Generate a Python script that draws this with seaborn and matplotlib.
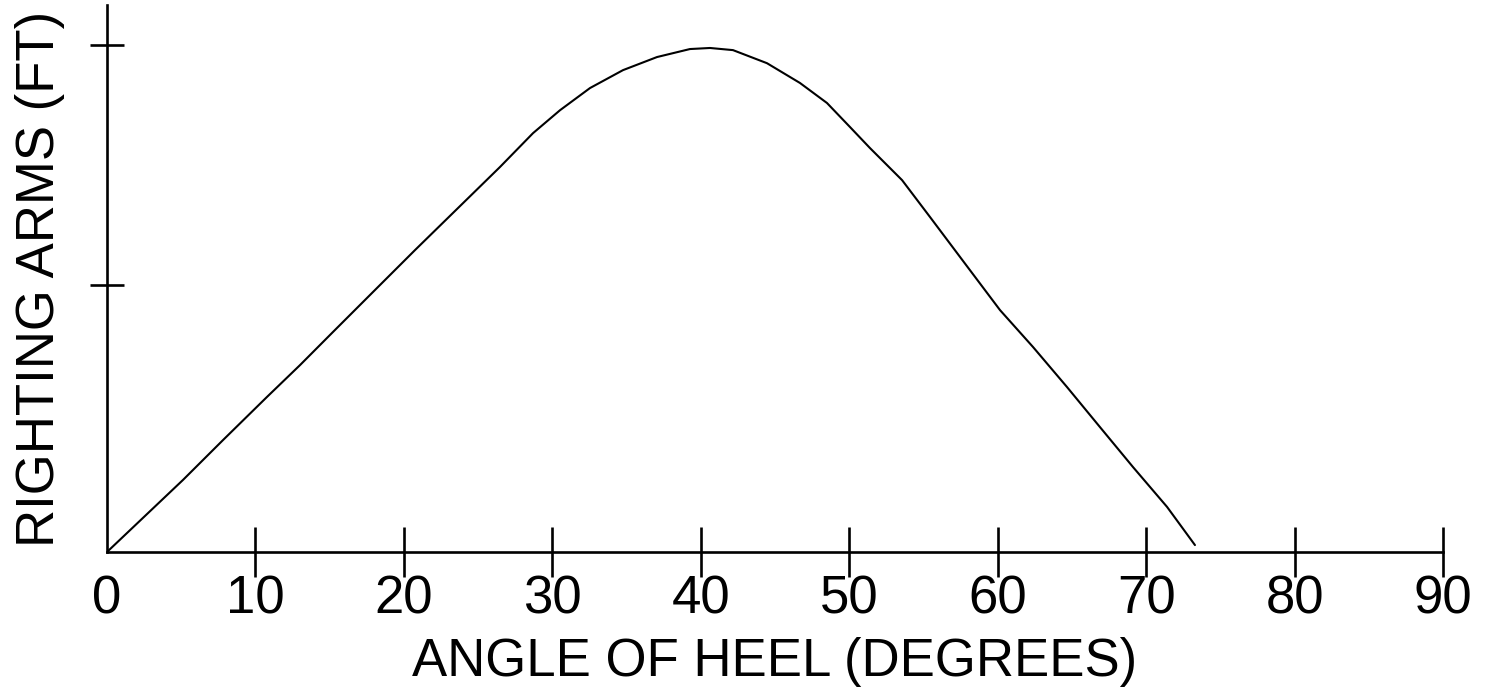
import numpy as np
import pandas as pd
import matplotlib
matplotlib.use("Agg")
import matplotlib.pyplot as plt
import seaborn as sns

# Righting arm curve (degrees, arbitrary ft scale)
heel_angle = [0.0, 5.12, 7.81, 10.78, 13.00, 15.22, 18.19, 20.75, 26.47, 28.70,
              30.52, 32.54, 34.76, 37.05, 39.27, 40.62, 42.17, 44.46, 46.68, 48.50,
              50.05, 51.40, 52.75, 53.56, 55.44, 57.67, 60.16, 62.38, 64.67, 66.89,
              69.12, 71.41, 73.29]
righting_arm = [0.000, 0.270, 0.419, 0.581, 0.700, 0.824, 0.989, 1.131, 1.442, 1.569,
                1.655, 1.738, 1.805, 1.854, 1.884, 1.888, 1.880, 1.831, 1.757, 1.682,
                1.592, 1.513, 1.438, 1.393, 1.255, 1.090, 0.906, 0.768, 0.618, 0.468,
                0.318, 0.169, 0.026]
x_ticks = [0, 10, 20, 30, 40, 50, 60, 70, 80, 90]
y_ticks = [1.0, 1.9]

sns.set_style("ticks")
plt.rcParams["font.family"] = ["Liberation Sans", "DejaVu Sans"]
plt.rcParams.update({"text.color": "black", "axes.labelcolor": "black",
                     "xtick.color": "black", "ytick.color": "black"})

df = pd.DataFrame({"angle": heel_angle, "arm": righting_arm})

fig = plt.figure(figsize=(14.87, 6.93), dpi=100)
ax = fig.add_axes([107 / 1487, 141 / 693, 1336 / 1487, 547 / 693])

sns.lineplot(data=df, x="angle", y="arm", color="black", linewidth=1.5,
             sort=False, ax=ax, solid_joinstyle="round")

ax.set_xlim(0, 90)
ax.set_ylim(0, 2.049)
ax.set_xticks(x_ticks)
ax.set_xticklabels([str(t) for t in x_ticks])
ax.set_yticks(y_ticks)

for side in ["top", "right"]:
    ax.spines[side].set_visible(False)
for side in ["left", "bottom"]:
    ax.spines[side].set_linewidth(1.9)
    ax.spines[side].set_color("black")

ax.tick_params(axis="x", direction="inout", length=36, width=1.9,
               labelsize=38, pad=-2)
ax.tick_params(axis="y", direction="inout", length=25, width=1.9,
               labelleft=False)
# no tick mark at the origin
ax.xaxis.get_major_ticks()[0].tick1line.set_visible(False)

ax.set_xlabel("ANGLE OF HEEL (DEGREES)", fontsize=38, labelpad=9)
ax.set_ylabel("RIGHTING ARMS (FT)", fontsize=38, labelpad=18)

fig.savefig("out.png", dpi=100)
